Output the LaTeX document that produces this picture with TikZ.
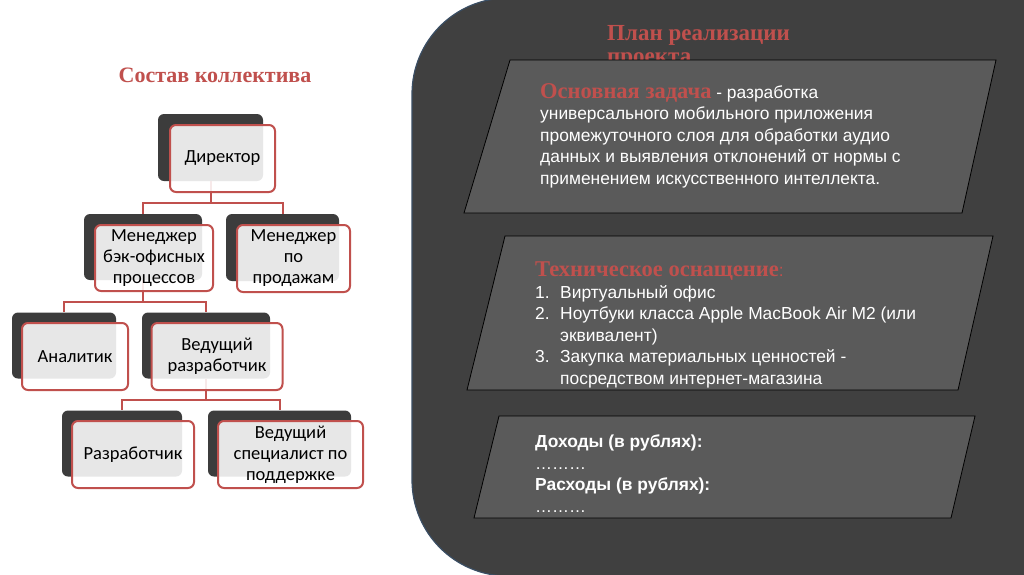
\documentclass[tikz,border=0pt]{standalone}
\usepackage{fontspec}
\setmainfont{Liberation Sans}
\newfontfamily\orgfont{Carlito}
\newfontfamily\headfont{Liberation Serif}
\usetikzlibrary{calc,positioning}
\definecolor{accred}{RGB}{192,80,77}
\definecolor{panelgray}{RGB}{64,64,64}
\definecolor{cardgray}{RGB}{90,90,90}
\definecolor{boxdark}{RGB}{60,60,60}
\definecolor{panelrim}{RGB}{58,78,100}
\newcommand\redhead[1]{{\headfont\bfseries\color{accred}\fontsize{22.5}{21.5}\selectfont #1}}
\tikzset{
  backbox/.style={fill=boxdark, rounded corners=6pt, inner sep=0pt},
  frontbox/.style={draw=accred, line width=2pt, fill=white, fill opacity=0.88, text opacity=1,
    rounded corners=6pt, align=center, inner sep=0pt, text=black,
    font=\orgfont\fontsize{18.5}{21}\selectfont},
  orgline/.style={draw=accred, line width=2pt},
  heading/.style={text=accred, inner sep=0pt, font=\headfont\bfseries\fontsize{22}{22}\selectfont},
  card/.style={fill=cardgray, draw=black, line width=0.8pt},
  cardtext/.style={anchor=north west, align=left, text=white, inner sep=0pt,
    font=\fontsize{17.4}{21.5}\selectfont}
}

\begin{document}
\begin{tikzpicture}[x=1pt,y=-1pt]
\useasboundingbox[fill=white] (0,0) rectangle (1024,574);

% team structure
\node[heading] (teamtitle) at (215,75) {Состав коллектива};

\node[backbox, minimum width=105pt, minimum height=67pt] (dirB) at (210.5,147.5) {};
\node[backbox, minimum width=118pt, minimum height=66pt] (backofB) at (143,247) {};
\node[backbox, minimum width=113pt, minimum height=67pt] (salesB) at (282.5,247.5) {};
\node[backbox, minimum width=104pt, minimum height=66pt] (analystB) at (64,345.5) {};
\node[backbox, minimum width=128pt, minimum height=66pt] (leadB) at (206,345.5) {};
\node[backbox, minimum width=120pt, minimum height=66pt] (devB) at (122,443.5) {};
\node[backbox, minimum width=143pt, minimum height=66pt] (supportB) at (279.5,443.5) {};

\coordinate (j1) at (0,203);
\coordinate (j2) at (0,302);
\coordinate (j3) at (0,400);
\draw[orgline] (dirB.south) -- (dirB.south |- j1) -| (backofB.north);
\draw[orgline] (dirB.south) -- (dirB.south |- j1) -| (salesB.north);
\draw[orgline] (backofB.south) -- (backofB.south |- j2) -| (analystB.north);
\draw[orgline] (backofB.south) -- (backofB.south |- j2) -| (leadB.north);
\draw[orgline] (leadB.south) -- (leadB.south |- j3) -| (devB.north);
\draw[orgline] (leadB.south) -- (leadB.south |- j3) -| (supportB.north);

\node[frontbox, minimum width=105pt, minimum height=67pt] (dir) at ([shift={(12,11)}]dirB.center) {Директор};
\node[frontbox, minimum width=118pt, minimum height=66pt] (backof) at ([shift={(11,11)}]backofB.center) {Менеджер\\бэк-офисных\\процессов};
\node[frontbox, minimum width=113pt, minimum height=67pt] (sales) at ([shift={(11,11)}]salesB.center) {Менеджер\\по\\продажам};
\node[frontbox, minimum width=106pt, minimum height=67pt] (analyst) at ([shift={(11,11)}]analystB.center) {Аналитик};
\node[frontbox, minimum width=131pt, minimum height=67pt] (lead) at ([shift={(11,11)}]leadB.center) {Ведущий\\разработчик};
\node[frontbox, minimum width=122pt, minimum height=67pt] (dev) at ([shift={(11,11)}]devB.center) {Разработчик};
\node[frontbox, minimum width=145pt, minimum height=67pt] (support) at ([shift={(11,11)}]supportB.center) {Ведущий\\специалист по\\поддержке};

% project plan panel
\fill[panelgray, rounded corners=96pt] (412,-2) rectangle (1300,576);
\draw[panelrim, line width=1.2pt, rounded corners=96pt] (412,-2) rectangle (1300,576);

\node[heading, anchor=north west, align=left, font=\headfont\bfseries\fontsize{23}{23}\selectfont] (plantitle) at (607,25) {План реализации\\проекта};

\filldraw[card] (510,60) -- (996,60) -- (962,213) -- (464,213) -- cycle;
\filldraw[card] (505,236) -- (993,236) -- (958,390) -- (467,390) -- cycle;
\filldraw[card] (499,416) -- (975,416) -- (951,518) -- (474,518) -- cycle;

\node[cardtext] (goal) at (540,83) {\redhead{Основная задача} - разработка\\
универсального мобильного приложения\\
промежуточного слоя для обработки аудио\\
данных и выявления отклонений от нормы с\\
применением искусственного интеллекта.};

\node[cardtext] (equip) at (535,262) {\redhead{Техническое оснащение}{\color{accred}:}\\
\makebox[25pt][l]{1.}Виртуальный офис\\
\makebox[25pt][l]{2.}Ноутбуки класса Apple MacBook Air M2 (или\\
\hspace*{25pt}эквивалент)\\
\makebox[25pt][l]{3.}Закупка материальных ценностей -\\
\hspace*{25pt}посредством интернет-магазина};

\node[cardtext] (budget) at (535,435) {\textbf{Доходы (в рублях):}\\
{\fontsize{17}{21.5}\selectfont ………}\\
\textbf{Расходы (в рублях):}\\
{\fontsize{17}{21.5}\selectfont ………}};
\end{tikzpicture}
\end{document}
